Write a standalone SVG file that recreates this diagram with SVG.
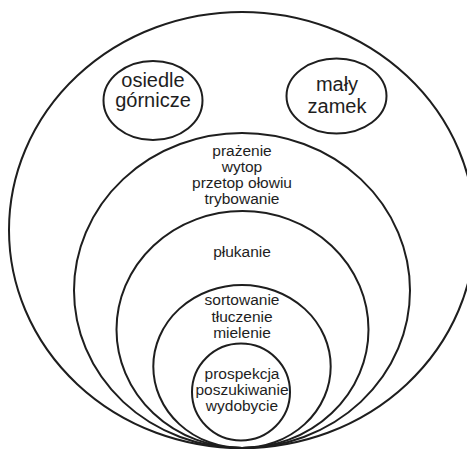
<svg xmlns="http://www.w3.org/2000/svg" width="467" height="451" viewBox="0 0 467 451">
<style>
.ring{fill:none;stroke:#1e1e1e;stroke-width:2}
.lbl{font-family:"Liberation Sans",Arial,sans-serif;fill:#1e1e1e;text-anchor:middle}
.big{font-size:20px}
.sm{font-size:15.5px}
</style>
<rect width="467" height="451" fill="#ffffff"/>
<g id="strefa-zewnetrzna">
<ellipse class="ring" cx="242" cy="230" rx="233" ry="218"/>
</g>
<g id="osiedle-gornicze">
<ellipse class="ring" cx="153" cy="100.5" rx="49.5" ry="39.5"/>
<text class="lbl big" x="153" y="86.5">osiedle</text>
<text class="lbl big" x="153" y="107">górnicze</text>
</g>
<g id="maly-zamek">
<ellipse class="ring" cx="336.5" cy="96" rx="50" ry="37.5"/>
<text class="lbl big" x="337" y="90.5">mały</text>
<text class="lbl big" x="337" y="112.5">zamek</text>
</g>
<g id="hutnictwo">
<ellipse class="ring" cx="242" cy="290.5" rx="168" ry="157.5"/>
<text class="lbl sm" x="242" y="156">prażenie</text>
<text class="lbl sm" x="242" y="172">wytop</text>
<text class="lbl sm" x="242" y="188">przetop ołowiu</text>
<text class="lbl sm" x="242" y="204">trybowanie</text>
</g>
<g id="plukanie">
<ellipse class="ring" cx="242.5" cy="329.5" rx="126" ry="118.5"/>
<text class="lbl sm" x="242" y="256.5">płukanie</text>
</g>
<g id="przerobka">
<ellipse class="ring" cx="242" cy="366.5" rx="88.7" ry="81.5"/>
<text class="lbl sm" x="242" y="305">sortowanie</text>
<text class="lbl sm" x="242" y="321.5">tłuczenie</text>
<text class="lbl sm" x="242" y="337.5">mielenie</text>
</g>
<g id="wydobycie">
<ellipse class="ring" cx="241" cy="392" rx="49" ry="48.5"/>
<text class="lbl sm" x="242" y="378.5">prospekcja</text>
<text class="lbl sm" x="242" y="394.8">poszukiwanie</text>
<text class="lbl sm" x="242" y="411">wydobycie</text>
</g>
<g id="connectors"></g>
</svg>
